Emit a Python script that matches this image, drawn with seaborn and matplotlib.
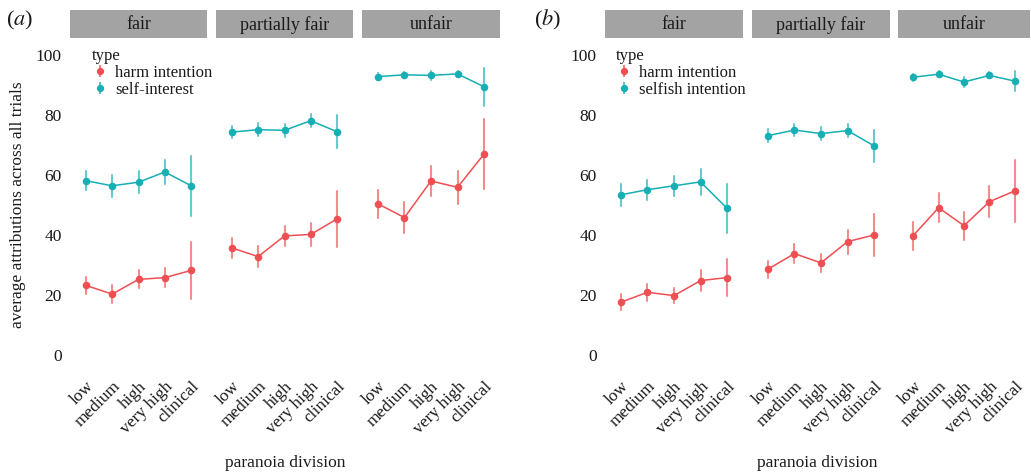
import numpy as np
import pandas as pd
import matplotlib
matplotlib.use("Agg")
import matplotlib.pyplot as plt
import seaborn as sns
from matplotlib.lines import Line2D

# ---------------- data ----------------
levels = ["low", "medium", "high", "very high", "clinical"]
fairness = ["fair", "partially fair", "unfair"]

a_types = ["harm intention", "self-interest"]
b_types = ["harm intention", "selfish intention"]

# values ordered: fair (5 levels), partially fair (5), unfair (5)
a_harm_mean = [23.2, 20.3, 25.2, 25.8, 28.2, 35.7, 32.8, 39.7, 40.2, 45.4, 50.4, 45.8, 58.0, 55.9, 67.0]
a_harm_err = [2.9, 2.9, 3.0, 3.2, 9.4, 3.3, 3.4, 3.4, 3.7, 9.4, 4.6, 5.2, 5.0, 5.4, 11.7]
a_self_mean = [58.1, 56.4, 57.6, 61.0, 56.4, 74.3, 75.1, 74.9, 78.1, 74.4, 92.8, 93.4, 93.2, 93.7, 89.4]
a_self_err = [3.2, 3.7, 3.7, 3.9, 10.1, 2.0, 2.1, 2.2, 2.1, 5.5, 1.1, 1.1, 1.5, 1.1, 6.4]

b_harm_mean = [17.6, 20.9, 19.8, 24.8, 25.8, 28.6, 33.8, 30.7, 37.8, 40.0, 39.8, 49.1, 43.1, 51.1, 54.7]
b_harm_err = [2.6, 2.8, 2.4, 3.4, 6.1, 2.8, 3.2, 3.1, 4.0, 6.9, 4.7, 4.8, 4.7, 5.2, 10.4]
b_self_mean = [53.4, 55.1, 56.4, 57.7, 48.9, 73.1, 75.0, 73.8, 74.8, 69.7, 92.6, 93.6, 91.0, 93.2, 91.3]
b_self_err = [3.7, 3.4, 3.3, 4.2, 8.1, 2.2, 1.9, 2.1, 2.2, 5.2, 1.1, 1.0, 1.7, 1.0, 3.4]

y_ticks = [0, 20, 40, 60, 80, 100]

RED = "#EF4E52"
TEAL = "#15AFB4"


def build(types, series):
    rows = []
    for t, (means, errs) in zip(types, series):
        for i, (m, e) in enumerate(zip(means, errs)):
            f = fairness[i // 5]
            lv = levels[i % 5]
            # lower bound, mean, upper bound -> median = mean, min/max = interval
            for v in (m - e, m, m + e):
                rows.append({"fairness": f, "level": lv, "type": t, "value": v})
    return pd.DataFrame(rows)


df_a = build(a_types, [(a_harm_mean, a_harm_err), (a_self_mean, a_self_err)])
df_b = build(b_types, [(b_harm_mean, b_harm_err), (b_self_mean, b_self_err)])

# ---------------- style ----------------
sns.set_theme(style="white")
plt.rcParams["font.family"] = ["Liberation Serif", "DejaVu Serif"]
plt.rcParams["mathtext.fontset"] = "stix"
TXT = "#1a1a1a"

W, H = 1031, 472
fig = plt.figure(figsize=(W / 100, H / 100), dpi=100)


def add_ax(x0, x1, y0, y1):
    return fig.add_axes([x0 / W, 1 - y1 / H, (x1 - x0) / W, (y1 - y0) / H])


panels = [
    dict(df=df_a, types=a_types, xs=[(70, 207), (216, 353), (362, 500)], tag="($a$)", tagx=20,
         leg=(92, 48)),
    dict(df=df_b, types=b_types, xs=[(605, 743), (752, 890), (898, 1030)], tag="($b$)", tagx=548,
         leg=(616, 48)),
]

PY0, PY1 = 40, 370   # panel top / bottom (px)
SY0, SY1 = 10, 38    # strip top / bottom (px)

for p in panels:
    pal = {p["types"][0]: RED, p["types"][1]: TEAL}
    for j, (f, (x0, x1)) in enumerate(zip(fairness, p["xs"])):
        ax = add_ax(x0, x1, PY0, PY1)
        sub = p["df"][p["df"]["fairness"] == f]
        sns.pointplot(data=sub, x="level", y="value", hue="type", order=levels,
                      hue_order=p["types"], palette=pal, estimator="median",
                      errorbar=("pi", 100), markers="o", markersize=4.6, linewidth=1.1,
                      err_kws={"linewidth": 1.5, "alpha": 0.65}, legend=False, ax=ax)
        ax.set_xlim(-0.6, 4.6)
        ax.set_ylim(-5, 105)
        ax.set_yticks(y_ticks)
        ax.set_xlabel("")
        ax.set_ylabel("")
        for s in ax.spines.values():
            s.set_visible(False)
        ax.tick_params(length=0, labelsize=12.5, colors=TXT, pad=6)
        ax.set_xticks(range(len(levels)))
        ax.set_xticklabels(levels, rotation=45, ha="right", va="top", rotation_mode="anchor")
        if j == 0:
            ax.set_yticklabels([str(v) for v in y_ticks])
        else:
            ax.set_yticklabels([])
        ax.grid(False)

        # facet strip
        sax = add_ax(x0, x1, SY0, SY1)
        sax.set_facecolor("#a3a3a3")
        sax.set_xticks([])
        sax.set_yticks([])
        for s in sax.spines.values():
            s.set_visible(False)
        sax.text(0.5, 0.47, f, ha="center", va="center", fontsize=13, color=TXT,
                 transform=sax.transAxes)

        if j == 0:
            handles = [
                (Line2D([], [], color=pal[t], marker="|", markersize=9, linestyle="none",
                        markeredgewidth=1.5, alpha=0.7),
                 Line2D([], [], color=pal[t], marker="o", markersize=4.2, linestyle="none"))
                for t in p["types"]
            ]
            lx, ly = p["leg"]
            leg = ax.legend(handles, p["types"], title="type", loc="upper left",
                            bbox_to_anchor=(lx / W, 1 - ly / H), bbox_transform=fig.transFigure,
                            frameon=False, fontsize=12, title_fontsize=12,
                            handlelength=0.9, handletextpad=0.5, labelspacing=0.05,
                            borderpad=0, borderaxespad=0, alignment="left")
            for t in leg.get_texts():
                t.set_color(TXT)
            leg.get_title().set_color(TXT)

    # x label and panel tag
    xc = (p["xs"][0][0] + p["xs"][2][1]) / 2
    fig.text(xc / W, 1 - 463 / H, "paranoia division", ha="center", va="center",
             fontsize=12.5, color=TXT)
    fig.text(p["tagx"] / W, 1 - 20 / H, p["tag"], ha="center", va="center",
             fontsize=16, color=TXT)

fig.text(18 / W, 1 - 205 / H, "average attributions across all trials", rotation=90,
         ha="center", va="center", fontsize=12.5, color=TXT)

fig.savefig("out.png", dpi=100)
